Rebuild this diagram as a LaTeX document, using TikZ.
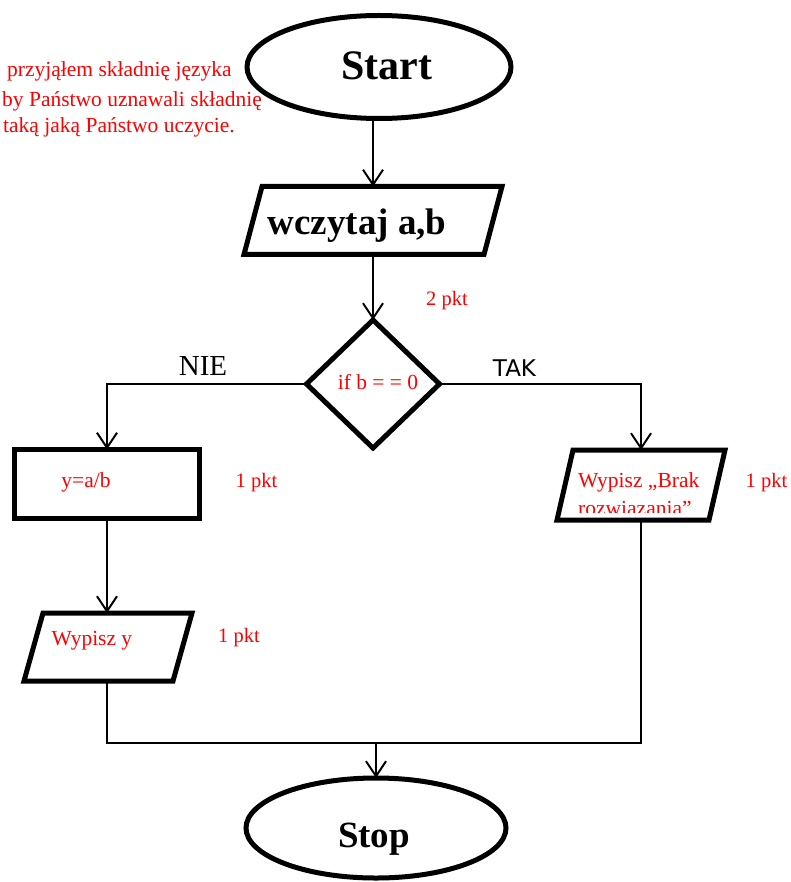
\documentclass[tikz,border=0pt]{standalone}
\usepackage{fontspec}
\setmainfont{Liberation Serif}
\newfontfamily\taksans{DejaVu Sans}
\usetikzlibrary{shapes.geometric,arrows.meta}
\newcommand\drawpara[2]{\draw[shp] ([xshift=#2]#1.north west) -- ([xshift=#2]#1.north east) -- ([xshift=-#2]#1.south east) -- ([xshift=-#2]#1.south west) -- cycle;}
\begin{document}
\begin{tikzpicture}[x=1pt,y=-1pt,
  shp/.style={draw, line width=5pt, line join=miter},
  hid/.style={inner sep=0pt, outer sep=0pt},
  arr/.style={draw, line width=2pt, -{Straight Barb[length=15pt,width=20pt,line width=2pt]}},
  ln/.style={draw, line width=1.6pt},
  redtxt/.style={text=red, font=\fontsize{21.5}{24}\selectfont, inner sep=0pt, anchor=base},
  pkt/.style={text=red, font=\fontsize{20.5}{24}\selectfont, inner sep=0pt, anchor=base},
  bigtxt/.style={font=\bfseries\fontsize{#1}{#1}\selectfont, inner sep=0pt, anchor=base},
  lbl/.style={font=\fontsize{#1}{#1}\selectfont, inner sep=0pt, anchor=base}]
\useasboundingbox (0,0) rectangle (790,882);
% annotation
\node[redtxt, anchor=base west] (n1) at (7,77) {przyjąłem składnię języka};
\node[redtxt, anchor=base west] (n2) at (2,107) {by Państwo uznawali składnię};
\node[redtxt, anchor=base west] (n3) at (3,133) {taką jaką Państwo uczycie.};
% start
\node[ellipse, shp, hid, minimum width=264pt, minimum height=103pt] (start) at (379,67) {};
\node[bigtxt=42] (starttxt) at (386.5,80) {Start};
% input
\node[hid, minimum width=240pt, minimum height=68pt] (wz) at (373,220.5) {};
\drawpara{wz}{9pt}
\node[bigtxt=37] (wztxt) at (357,235) {wczytaj a,b};
% decision
\node[diamond, shp, hid, minimum width=133pt, minimum height=128pt] (dec) at (373,384) {};
\node[redtxt] (dectxt) at (378,389) {if b = = 0};
\node[pkt] (p2) at (447,305) {2 pkt};
% left branch
\node[rectangle, shp, hid, minimum width=185pt, minimum height=69pt] (calc) at (107,484) {};
\node[redtxt] (calctxt) at (86,487) {y=a/b};
\node[pkt] (p1a) at (256.5,487) {1 pkt};
\node[hid, minimum width=149pt, minimum height=68pt] (wy) at (108,647) {};
\drawpara{wy}{9.5pt}
\node[redtxt] (wytxt) at (92,645.5) {Wypisz y};
\node[pkt] (p1b) at (239,642) {1 pkt};
% right branch
\node[hid, minimum width=152pt, minimum height=70pt] (bk) at (641,485) {};
\drawpara{bk}{8pt}
\node[redtxt, anchor=base west] (bktxt) at (578,487) {Wypisz „Brak};
\begin{scope}
\clip (545,440) rectangle (740,512);
\node[redtxt, anchor=base west] (bktxt2) at (578,515) {rozwiazania”};
\end{scope}
\node[pkt] (p1c) at (766.5,487) {1 pkt};
% labels
\node[lbl=29] (nie) at (203,375) {NIE};
\node[lbl=23, font=\taksans\fontsize{23}{23}\selectfont] (tak) at (514.5,376) {TAK};
% stop
\node[ellipse, shp, hid, minimum width=260pt, minimum height=100pt] (stop) at (376,828) {};
\node[bigtxt=37] (stoptxt) at (374,847) {Stop};
\coordinate (j) at (376,743);
% connectors
\draw[arr] (start.south -| wz.north) -- (wz.north);
\draw[arr] (wz.south) -- (dec.north);
\draw[arr] (dec.west) -| (calc.north);
\draw[arr] (dec.east) -| (bk.north);
\draw[arr] (calc.south) -- (calc.south |- wy.north);
\draw[ln] (wy.south -| calc.south) -- (calc.south |- j) -- (bk.south |- j) -- (bk.south);
\draw[arr] (j) -- (stop.north);
\end{tikzpicture}
\end{document}
